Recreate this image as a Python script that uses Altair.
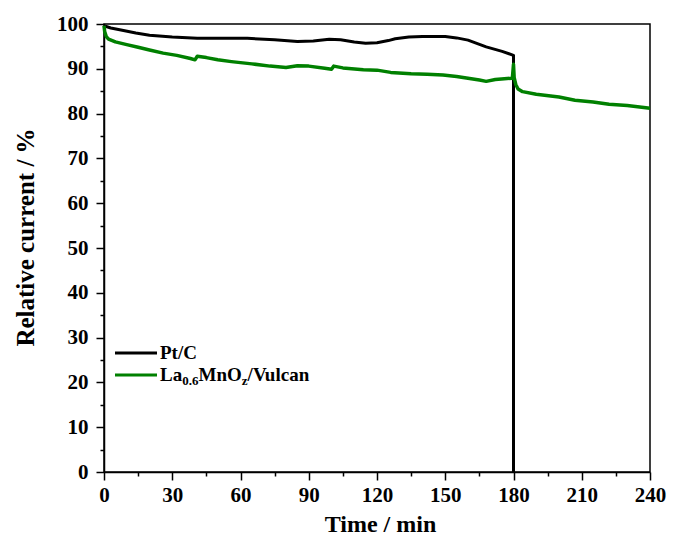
import altair as alt
import pandas as pd

# ---------------- data ----------------
pt_time = [0, 3, 8, 14, 20, 30, 41, 52, 63, 75, 85, 92, 99, 104, 110, 115, 120,
           125, 128, 134, 140, 150, 155, 160, 168, 175, 180, 180]
pt_value = [99.6, 99.1, 98.6, 98.0, 97.5, 97.1, 96.8, 96.8, 96.8, 96.5, 96.1, 96.2,
            96.6, 96.5, 96.0, 95.7, 95.8, 96.3, 96.7, 97.1, 97.2, 97.2, 96.9, 96.4,
            94.9, 93.9, 93.0, 0.0]

la_time = [0, 0.3, 1, 2, 5, 10, 15, 20, 26, 32, 38, 40, 41, 45, 50, 56, 65, 73, 80,
           85, 90, 97, 100, 101, 105, 114, 120, 126, 135, 142, 149, 155, 160, 165,
           168, 172, 176, 179.5, 180, 180.3, 181, 182, 184, 190, 200, 207, 215, 222,
           230, 240]
la_value = [99.6, 98.3, 97.2, 96.6, 96.0, 95.4, 94.8, 94.2, 93.5, 93.0, 92.3, 92.0,
            92.8, 92.5, 92.0, 91.6, 91.1, 90.6, 90.3, 90.7, 90.6, 90.1, 89.9, 90.6,
            90.2, 89.8, 89.7, 89.2, 88.9, 88.8, 88.6, 88.3, 87.9, 87.5, 87.2, 87.6,
            87.8, 87.9, 91.0, 88.0, 86.5, 85.5, 84.9, 84.3, 83.7, 83.0, 82.6, 82.1,
            81.8, 81.2]

series_names = ["Pt/C", "La0.6MnOz/Vulcan"]
series_colors = ["#000000", "#008000"]

x_major = [0, 30, 60, 90, 120, 150, 180, 210, 240]
x_minor = [15, 45, 75, 105, 135, 165, 195, 225]
y_major = [0, 10, 20, 30, 40, 50, 60, 70, 80, 90, 100]
y_minor = [5, 15, 25, 35, 45, 55, 65, 75, 85, 95]

x_title = "Time / min"
y_title = "Relative current / %"

# ---------------- tables ----------------
df_pt = pd.DataFrame({"time": pt_time, "value": pt_value,
                      "order": list(range(len(pt_time)))})
df_la = pd.DataFrame({"time": la_time, "value": la_value,
                      "order": list(range(len(la_time)))})
one = pd.DataFrame({"k": [0]})

FONT = "Liberation Serif"
W, H = 546, 448

x_scale = alt.Scale(domain=[0, 240], nice=False, zero=False)
y_scale = alt.Scale(domain=[0, 100], nice=False, zero=False)

common_axis = dict(labelFont=FONT, labelFontSize=21, labelFontWeight="bold",
                   labelColor="black", titleFont=FONT,
                   titleFontWeight="bold", titleColor="black", domainColor="black",
                   domainWidth=1.5, tickColor="black", tickWidth=1.5, grid=False,
                   labelFlush=False, labelOverlap=False)

x_axis_major = alt.Axis(values=x_major, title=x_title, tickSize=8, labelPadding=4,
                        orient="bottom", titleX=276, titleY=59, titleFontSize=24,
                        titleBaseline="alphabetic", **common_axis)
y_axis_major = alt.Axis(values=y_major, title=y_title, tickSize=8, labelPadding=8,
                        orient="left", titleX=-71, titleY=213, titleAngle=-90,
                        titleFontSize=25, titleBaseline="alphabetic",
                        titleAlign="center", **common_axis)

x_axis_minor = alt.Axis(values=x_minor, title=None, labels=False, tickSize=4,
                        domain=False, orient="bottom", tickColor="black",
                        tickWidth=1.5, grid=False)
y_axis_minor = alt.Axis(values=y_minor, title=None, labels=False, tickSize=4,
                        domain=False, orient="left", tickColor="black",
                        tickWidth=1.5, grid=False)

pt_line = alt.Chart(df_pt).mark_line(color=series_colors[0], strokeWidth=3,
                                     strokeJoin="round").encode(
    x=alt.X("time:Q", scale=x_scale, axis=x_axis_major),
    y=alt.Y("value:Q", scale=y_scale, axis=y_axis_major),
    order="order:Q",
)

la_line = alt.Chart(df_la).mark_line(color=series_colors[1], strokeWidth=3.5,
                                     strokeJoin="round").encode(
    x=alt.X("time:Q", scale=x_scale, axis=x_axis_minor),
    y=alt.Y("value:Q", scale=y_scale, axis=y_axis_minor),
    order="order:Q",
)

# ---------------- hand-made legend (for the subscripts) ----------------
def leg_rule(y, color):
    return alt.Chart(one).mark_rule(color=color, strokeWidth=3).encode(
        x=alt.value(11), x2=alt.value(53), y=alt.value(y))

def leg_text(txt, x, y, size):
    return alt.Chart(one).mark_text(align="left", baseline="alphabetic", font=FONT,
                                    fontWeight="bold", fontSize=size,
                                    color="black").encode(
        x=alt.value(x), y=alt.value(y), text=alt.value(txt))

legend = [
    leg_rule(329, series_colors[0]),
    leg_rule(351, series_colors[1]),
    leg_text("Pt/C", 56, 335, 19),
    leg_text("La", 56, 357, 19),
    leg_text("0.6", 78.2, 361, 13),
    leg_text("MnO", 94.5, 357, 19),
    leg_text("z", 137.8, 361, 13),
    leg_text("/Vulcan", 143.6, 357, 19),
]

chart = alt.layer(pt_line, la_line, *legend).resolve_axis(
    x="independent", y="independent"
).properties(
    width=W, height=H,
    autosize=alt.AutoSizeParams(type="none"),
    padding={"left": 96, "top": 16, "right": 17, "bottom": 66},
).configure_view(stroke="black", strokeWidth=1.5)

chart.save("out.html", embed_options={"renderer": "svg", "actions": False})
